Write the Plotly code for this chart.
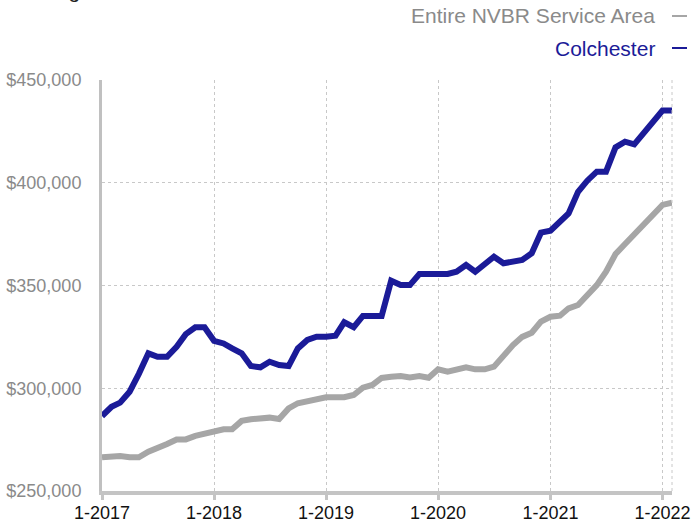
import plotly.graph_objects as go
import pandas as pd

dates = pd.date_range("2017-01-01", "2022-02-01", freq="MS")

nvbr = [266400, 267000, 267000, 266400, 266400, 269100, 270800, 272900, 275100, 275100,
        276800, 277600, 278900, 280000, 280000, 284100, 284900, 285400, 285700, 285000,
        290200, 292700, 293500, 294800, 295600, 295600, 295600, 296700, 300300, 301600,
        305000, 305600, 305900, 305300, 305900, 305100, 309200, 308100, 309200, 310200,
        309200, 309200, 310500, 316200, 321000, 325000, 327000, 332400, 334800, 335300,
        338900, 340500, 345400, 350200, 356700, 365300, 370200, 375100, 379900, 385100,
        389200, 390300]

colchester = [286500, 291000, 293000, 298300, 307000, 317000, 315300, 315300, 320200, 326300,
              329700, 329700, 323100, 321800, 319400, 317000, 310800, 310200, 312900, 311300,
              310800, 319400, 323500, 325100, 325100, 325600, 332100, 329700, 335200, 335200,
              335200, 352300, 350200, 350200, 355600, 355600, 355600, 355600, 356700, 360000,
              356700, 360800, 364000, 360800, 361600, 362400, 365700, 375700, 376700, 381000,
              385100, 395600, 401000, 405400, 405400, 417200, 420000, 418700, 424000, 430200,
              435100, 435100]

series_names = ["Entire NVBR Service Area", "Colchester"]
series_colors = ["#a6a6a6", "#1b1b98"]
legend_text_colors = ["#8a8a8a", "#1b1b98"]
title_text = "Rolling 12-Month Calculation"

y_ticks = [250000, 300000, 350000, 400000, 450000]
y_ticktext = ["$250,000", "$300,000", "$350,000", "$400,000", "$450,000"]

fig = go.Figure()
for name, vals, col in zip(series_names, [nvbr, colchester], series_colors):
    fig.add_trace(go.Scatter(x=dates, y=vals, mode="lines", name=name,
                             line=dict(color=col, width=6), showlegend=False))

font_family = "Liberation Sans, Arial, Helvetica, sans-serif"

fig.update_layout(
    width=692, height=523,
    margin=dict(l=102, r=20, t=80, b=32, autoexpand=False),
    paper_bgcolor="white", plot_bgcolor="white",
    font=dict(family=font_family),
)

fig.update_xaxes(
    range=[dates[0], dates[-1]],
    tickvals=[d for d in dates if d.month == 1],
    tickformat="%-m-%Y",
    tickfont=dict(size=18, color="#111111"),
    showgrid=True, gridcolor="#c8c8c8", gridwidth=1, griddash="dot",
    showline=True, linecolor="#c4c4c4", linewidth=4,
    ticks="outside", ticklen=5, tickwidth=3, tickcolor="#c4c4c4",
    ticklabelstandoff=-3,
    zeroline=False, automargin=False,
)
fig.update_yaxes(
    range=[250000, 450000],
    tickvals=y_ticks, ticktext=y_ticktext,
    tickfont=dict(size=18, color="#8a8a8a"),
    showgrid=True, gridcolor="#c8c8c8", gridwidth=1, griddash="dot",
    showline=True, linecolor="#c0c0c0", linewidth=3,
    ticks="", ticklabelstandoff=14,
    zeroline=False, automargin=False,
)

# right border (dotted)
fig.add_shape(type="line", xref="paper", yref="paper", x0=1, x1=1, y0=0, y1=1,
              line=dict(color="#c8c8c8", width=1, dash="dot"))

# custom legend: text then a short line on the right
plot_w, plot_h = 570, 411
legend_y_px = [16, 48]
for name, tcol, lcol, ypx in zip(series_names, legend_text_colors, series_colors, legend_y_px):
    yp = 1 + (80 - ypx) / plot_h
    fig.add_annotation(text=name, xref="paper", yref="paper",
                       x=1 + (657 - 672) / plot_w, y=yp, xanchor="right", yanchor="middle",
                       showarrow=False, font=dict(size=21, color=tcol, family=font_family))
    fig.add_shape(type="line", xref="paper", yref="paper",
                  x0=1 + (672 - 672) / plot_w, x1=1 + (687 - 672) / plot_w, y0=yp, y1=yp,
                  line=dict(color=lcol, width=2))

# cut-off title at top-left (only its descenders show, as in the reference)
fig.add_annotation(text=title_text, xref="paper", yref="paper",
                   x=(14 - 102) / plot_w, y=1 + (80 + 10) / plot_h,
                   xanchor="left", yanchor="middle", showarrow=False,
                   font=dict(size=21, color="#222222", family=font_family))

fig.write_html("out.html", config={"displayModeBar": False},
               post_script="document.body.style.margin='0px';document.body.style.overflow='hidden';")
